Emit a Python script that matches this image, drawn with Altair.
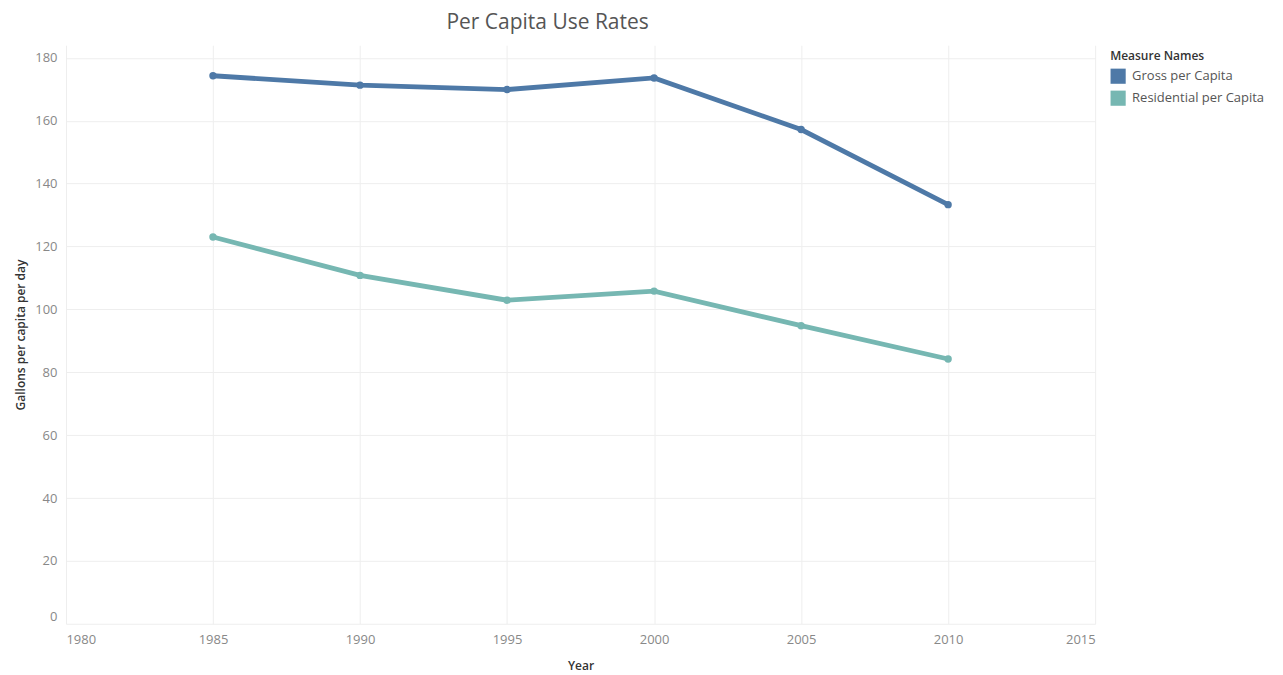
import altair as alt
import pandas as pd

years = [1985, 1990, 1995, 2000, 2005, 2010]
gross = [174.3, 171.3, 169.9, 173.6, 157.2, 133.3]
residential = [123.0, 110.8, 102.9, 105.8, 94.8, 84.2]
series = ["Gross per Capita", "Residential per Capita"]
colors = ["#4e79a7", "#76b7b2"]

rows = []
for y, g, r in zip(years, gross, residential):
    rows.append({"Year": y, "Measure Names": series[0], "Value": g})
    rows.append({"Year": y, "Measure Names": series[1], "Value": r})
df = pd.DataFrame(rows)

FONT = "Open Sans"

x = alt.X("Year:Q",
          scale=alt.Scale(domain=[1980, 2015], nice=False, zero=False),
          axis=alt.Axis(values=list(range(1980, 2016, 5)), format="d", title="Year",
                        labelFlush=True, ticks=False, domain=False,
                        labelPadding=10, titlePadding=14, labelFontSize=13,
                        labelColor="#888888", titleColor="#333333", titleFontSize=12,
                        titleFontWeight=600, gridColor="#eeeeee"))
y = alt.Y("Value:Q",
          scale=alt.Scale(domain=[0, 184], nice=False),
          axis=alt.Axis(values=list(range(0, 181, 20)), title="Gallons per capita per day",
                        labelFlush=True, ticks=False, domain=False,
                        labelPadding=9, titlePadding=7, labelFontSize=13,
                        labelColor="#888888", titleColor="#333333", titleFontSize=12,
                        titleFontWeight=600, gridColor="#eeeeee"))
color = alt.Color("Measure Names:N",
                  scale=alt.Scale(domain=series, range=colors),
                  legend=alt.Legend(title="Measure Names", orient="none",
                                    legendX=1045, legendY=6, symbolType="square",
                                    symbolSize=230, symbolStrokeWidth=0,
                                    symbolOpacity=1, labelFontSize=13, labelOffset=6,
                                    labelColor="#555555", titleFontSize=12,
                                    titleColor="#333333", titleFontWeight=600,
                                    rowPadding=6, titlePadding=5))

base = alt.Chart(df).encode(x=x, y=y, color=color)
lines = base.mark_line(strokeWidth=4.8)
points = base.mark_circle(size=55, opacity=1)

chart = (lines + points).properties(
    width=1030, height=579,
    autosize=alt.AutoSizeParams(type="none"),
    padding={"left": 58, "top": 37, "right": 180, "bottom": 50},
    title=alt.TitleParams("Per Capita Use Rates", fontSize=21, fontWeight="normal",
                          color="#555555", font=FONT, anchor="middle", dx=-33, offset=12),
).configure(font=FONT).configure_view(stroke=None).configure_axis(
    labelFont=FONT, titleFont=FONT
)

chart.save("out.html", embed_options={"renderer": "svg", "actions": False})
